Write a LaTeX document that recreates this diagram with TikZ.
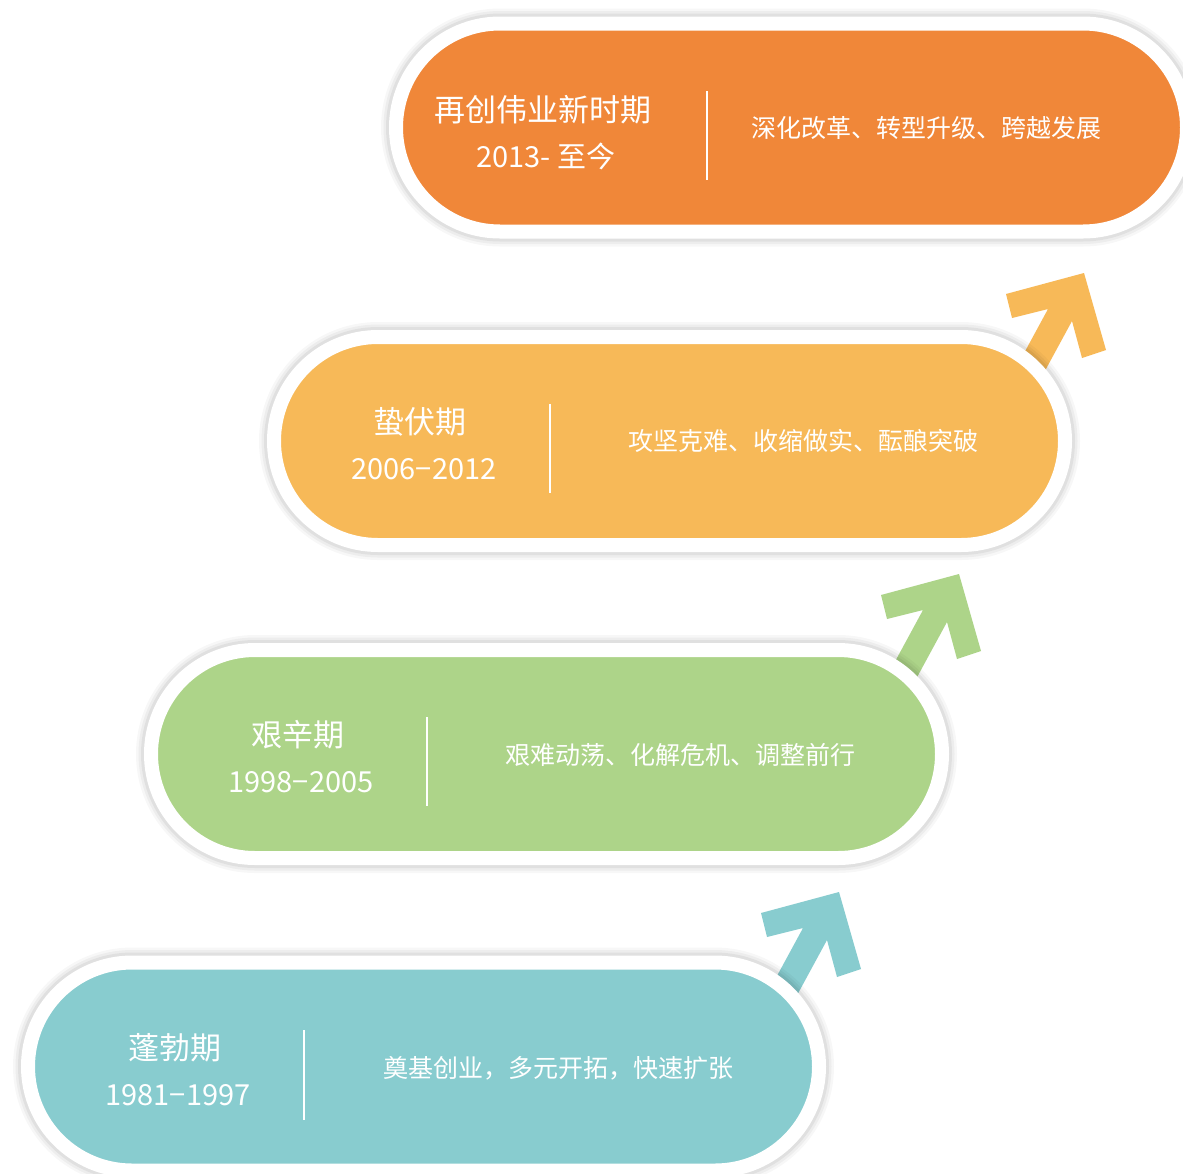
\documentclass[tikz,border=0pt]{standalone}
\usepackage{fontspec}
\setmainfont{Noto Sans CJK SC}
\usetikzlibrary{shapes.misc}
\definecolor{boomteal}{HTML}{88CCCF}
\definecolor{hardgreen}{HTML}{ADD489}
\definecolor{lowyellow}{HTML}{F7B958}
\definecolor{neworange}{HTML}{F08739}
% arrow outline, drawn once per step with a shift
\newcommand{\steparrow}{(839,892) -- (861,969) -- (837,977) -- (827,940) -- (789,1010) -- (765,998) -- (803,928) -- (767,937) -- (761,913) -- cycle}

\begin{document}
\begin{tikzpicture}[
    x=1pt, y=-1pt,
    stage/.style={rounded rectangle, minimum width=791pt, minimum height=208pt,
                  inner sep=0pt, draw=white, line width=14pt,
                  preaction={draw=black, draw opacity=0.03, line width=30pt},
                  preaction={draw=black, draw opacity=0.04, line width=25pt},
                  preaction={draw=black, draw opacity=0.05, line width=20pt}},
    title/.style={text=white, font=\fontsize{31}{36}\selectfont},
    year/.style={text=white, font=\fontsize{29}{34}\selectfont},
    desc/.style={text=white, font=\fontsize{25}{30}\selectfont},
    sep/.style={draw=white, line width=2.5pt},
]
\useasboundingbox (0,0) rectangle (1183,1173);
\fill[white] (0,0) rectangle (1183,1173);

% ---- Arrows between the stages ----
\fill[boomteal] \steparrow;
\fill[hardgreen, shift={(120,-318)}] \steparrow;
\fill[lowyellow, shift={(245,-619)}] \steparrow;

% ---- Stages ----
\node[stage, fill=boomteal]  (boom)  at (423.5,1066.5) {};
\node[stage, fill=hardgreen] (hard)  at (546.5,754) {};
\node[stage, fill=lowyellow] (low)   at (669.5,441) {};
\node[stage, fill=neworange] (renew) at (791.5,127.5) {};

% 1981-1997
\node[title] (boomname) at (175,1048) {蓬勃期};
\node[year]  (boomyear) at (178,1095) {1981−1997};
\draw[sep] (304,1030) -- (304,1120);
\node[desc]  (boomtext) at (558,1068) {奠基创业，多元开拓，快速扩张};

% 1998-2005
\node[title] (hardname) at (298,735) {艰辛期};
\node[year]  (hardyear) at (301,782) {1998−2005};
\draw[sep] (427,717) -- (427,806);
\node[desc]  (hardtext) at (680,755) {艰难动荡、化解危机、调整前行};

% 2006-2012
\node[title] (lowname) at (420,422) {蛰伏期};
\node[year]  (lowyear) at (424,469) {2006−2012};
\draw[sep] (550,404) -- (550,493);
\node[desc]  (lowtext) at (803,441) {攻坚克难、收缩做实、酝酿突破};

% 2013-
\node[title] (renewname) at (543,110) {再创伟业新时期};
\node[year]  (renewyear) at (546,156) {2013- 至今};
\draw[sep] (707,91) -- (707,180);
\node[desc]  (renewtext) at (926,128) {深化改革、转型升级、跨越发展};
\end{tikzpicture}
\end{document}
